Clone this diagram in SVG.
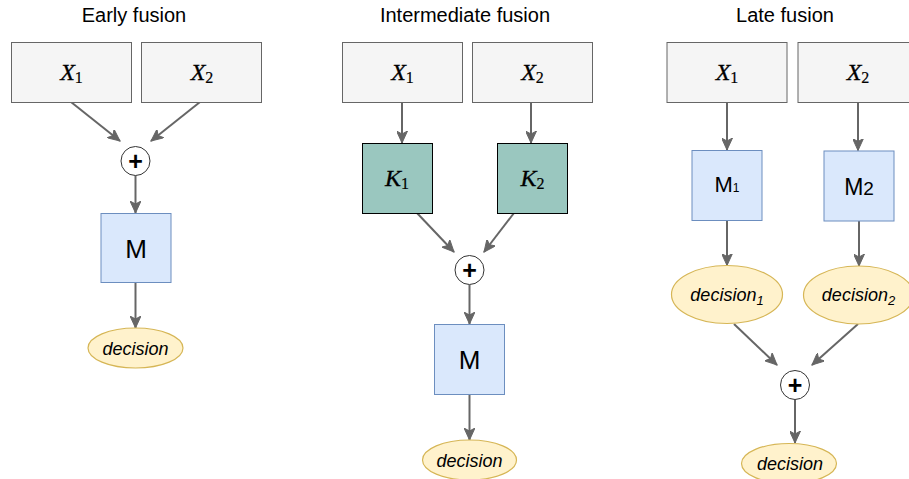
<svg xmlns="http://www.w3.org/2000/svg" width="909" height="479" viewBox="0 0 909 479">
<style>
.title{font-family:"Liberation Sans",Arial,sans-serif;font-size:20px;fill:#000;text-anchor:middle}
.inp{fill:#f5f5f5;stroke:#666;stroke-width:1}
.kbox{fill:#9ac7bf;stroke:#000;stroke-width:1}
.mbox{fill:#dae8fc;stroke:#6c8ebf;stroke-width:1}
.dec{fill:#fff2cc;stroke:#d6b656;stroke-width:1.2}
.plus{fill:#fff;stroke:#333;stroke-width:1}
.math{font-family:"Liberation Serif","Times New Roman",serif;font-size:24px;font-style:italic;text-anchor:middle;fill:#000;stroke:#000;stroke-width:0.3}
.sub{font-style:normal;font-size:16px;stroke-width:0.2}
.mt{font-family:"Liberation Sans",Arial,sans-serif;text-anchor:middle;fill:#000}
.dt{font-family:"Liberation Sans",Arial,sans-serif;font-style:italic;font-size:18px;text-anchor:middle;fill:#000}
.pt{font-family:"Liberation Sans",Arial,sans-serif;font-size:25px;font-weight:bold;text-anchor:middle;fill:#000}
.edge{fill:none;stroke:#666;stroke-width:2;marker-end:url(#arr)}
</style>
<defs>
<marker id="arr" markerUnits="userSpaceOnUse" markerWidth="13" markerHeight="11" refX="12" refY="5.5" orient="auto">
<path d="M0,0 L12,5.5 L0,11 L3,5.5 Z" fill="#666" stroke="#666" stroke-width="1" stroke-linejoin="miter"/>
</marker>
</defs>

<text class="title" x="134" y="21.5">Early fusion</text>
<text class="title" x="465" y="21.5">Intermediate fusion</text>
<text class="title" x="785" y="21.5">Late fusion</text>

<g id="connectors">
<path class="edge" d="M71,102 L120,141"/>
<path class="edge" d="M200,102 L151,141"/>
<path class="edge" d="M135.5,175.5 L135.5,213"/>
<path class="edge" d="M135.5,283 L135.5,328"/>
<path class="edge" d="M402,102 L402,143"/>
<path class="edge" d="M531,102 L531,143"/>
<path class="edge" d="M417,213 L454,252"/>
<path class="edge" d="M514,213 L484,252"/>
<path class="edge" d="M469.5,285 L469.5,324"/>
<path class="edge" d="M469.5,395 L469.5,440"/>
<path class="edge" d="M727,102 L727,150"/>
<path class="edge" d="M858,102 L858,150.5"/>
<path class="edge" d="M727,220 L727,265.5"/>
<path class="edge" d="M859,221 L859,266"/>
<path class="edge" d="M734,324 L777,365"/>
<path class="edge" d="M858,324 L812,365"/>
<path class="edge" d="M795,400 L795,443"/>
</g>

<g id="early-x1"><rect class="inp" x="11.5" y="42.5" width="120" height="60"/><text class="math" x="71.5" y="80">X<tspan class="sub" dy="3">1</tspan></text></g>
<g id="early-x2"><rect class="inp" x="141.5" y="42.5" width="120" height="60"/><text class="math" x="202" y="80">X<tspan class="sub" dy="3">2</tspan></text></g>
<g id="early-plus"><circle class="plus" cx="135.5" cy="161" r="14.5"/><text class="pt" x="135.5" y="169.5">+</text></g>
<g id="early-m"><rect class="mbox" x="101" y="213.5" width="70" height="69"/><text class="mt" x="136" y="258" font-size="26">M</text></g>
<g id="early-dec"><ellipse class="dec" cx="135.5" cy="348" rx="47.5" ry="20"/><text class="dt" x="135.5" y="355">decision</text></g>

<g id="inter-x1"><rect class="inp" x="342.5" y="42.5" width="120" height="60"/><text class="math" x="402.5" y="80">X<tspan class="sub" dy="3">1</tspan></text></g>
<g id="inter-x2"><rect class="inp" x="472.5" y="42.5" width="120" height="60"/><text class="math" x="532.5" y="80">X<tspan class="sub" dy="3">2</tspan></text></g>
<g id="inter-k1"><rect class="kbox" x="362.5" y="143.5" width="70" height="70"/><text class="math" x="397" y="186">K<tspan class="sub" dy="3">1</tspan></text></g>
<g id="inter-k2"><rect class="kbox" x="497.5" y="143.5" width="70" height="70"/><text class="math" x="532.5" y="186">K<tspan class="sub" dy="3">2</tspan></text></g>
<g id="inter-plus"><circle class="plus" cx="469.5" cy="270" r="14.5"/><text class="pt" x="469.5" y="278.5">+</text></g>
<g id="inter-m"><rect class="mbox" x="434.5" y="324.5" width="70" height="70"/><text class="mt" x="469.5" y="369" font-size="26">M</text></g>
<g id="inter-dec"><ellipse class="dec" cx="469.5" cy="460" rx="47" ry="20"/><text class="dt" x="469.5" y="467">decision</text></g>

<g id="late-x1"><rect class="inp" x="667" y="42.5" width="120" height="60"/><text class="math" x="727" y="80">X<tspan class="sub" dy="3">1</tspan></text></g>
<g id="late-x2"><rect class="inp" x="798" y="42.5" width="120" height="60"/><text class="math" x="858" y="80">X<tspan class="sub" dy="3">2</tspan></text></g>
<g id="late-m1"><rect class="mbox" x="692" y="150.5" width="70" height="70"/><text class="mt" x="727" y="192" font-size="22">M<tspan font-size="12">1</tspan></text></g>
<g id="late-m2"><rect class="mbox" x="824" y="151" width="70" height="70"/><text class="mt" x="859" y="195" font-size="23">M<tspan font-size="19">2</tspan></text></g>
<g id="late-dec1"><ellipse class="dec" cx="727" cy="294.5" rx="55.5" ry="29"/><text class="dt" x="727" y="301">decision<tspan font-size="13" dy="4">1</tspan></text></g>
<g id="late-dec2"><ellipse class="dec" cx="858.5" cy="295" rx="55" ry="29"/><text class="dt" x="858.5" y="301">decision<tspan font-size="13" dy="4">2</tspan></text></g>
<g id="late-plus"><circle class="plus" cx="795" cy="385" r="14.5"/><text class="pt" x="795" y="393.5">+</text></g>
<g id="late-dec"><ellipse class="dec" cx="789" cy="463.5" rx="47.5" ry="20"/><text class="dt" x="790" y="470">decision</text></g>
</svg>
